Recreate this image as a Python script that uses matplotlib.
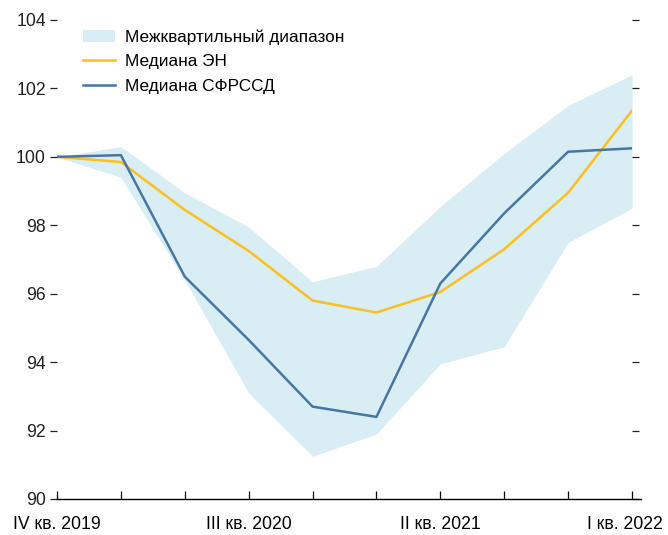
import numpy as np
import matplotlib
matplotlib.use("Agg")
import matplotlib.pyplot as plt
import matplotlib.transforms as mtransforms

plt.rcParams['font.family'] = ['Liberation Sans', 'DejaVu Sans']

# quarters from IV 2019 to I 2022
quarters = ['IV кв. 2019', 'I кв. 2020', 'II кв. 2020', 'III кв. 2020', 'IV кв. 2020',
            'I кв. 2021', 'II кв. 2021', 'III кв. 2021', 'IV кв. 2021', 'I кв. 2022']
band_low = [100.0, 99.4, 96.4, 93.1, 91.25, 91.9, 93.95, 94.45, 97.5, 98.5]
band_high = [100.0, 100.3, 98.95, 97.95, 96.35, 96.8, 98.55, 100.1, 101.5, 102.4]
med_en = [100.0, 99.85, 98.45, 97.25, 95.8, 95.45, 96.05, 97.3, 98.95, 101.35]
med_sfr = [100.0, 100.05, 96.5, 94.65, 92.7, 92.4, 96.3, 98.35, 100.15, 100.25]
shown_labels = ['IV кв. 2019', 'III кв. 2020', 'II кв. 2021', 'I кв. 2022']

x = np.arange(len(quarters))

fig = plt.figure(figsize=(6.68, 5.35), dpi=100)
ax = fig.add_axes([57/668, 1-499/535, (632-57)/668, (499-20)/535])

ax.fill_between(x, band_low, band_high, color='#d9edf5', lw=0, label='Межквартильный диапазон')
ax.plot(x, med_en, color='#fbbf1f', lw=1.8, label='Медиана ЭН')
ax.plot(x, med_sfr, color='#4677a2', lw=1.8, label='Медиана СФРССД')

ax.set_xlim(0, 9)
ax.set_ylim(90, 104)
ax.set_yticks(np.arange(90, 105, 2))
ax.set_xticks(x)
ax.set_xticklabels([q if q in shown_labels else '' for q in quarters])

for s in ['left', 'right', 'top']:
    ax.spines[s].set_visible(False)
ax.spines['bottom'].set_bounds(0, 9.14)
ax.spines['bottom'].set_linewidth(1.0)

ax.tick_params(axis='y', which='both', direction='out', length=5, width=0.9,
               pad=3, labelsize=12.7, left=True, right=True, colors='#222222')
ax.tick_params(axis='x', direction='in', length=6, width=0.9, pad=12, labelsize=12.7)

# nudge the last label so it stays inside the figure
lbls = ax.get_xticklabels()
shift = mtransforms.ScaledTranslation(-7/100, 0, fig.dpi_scale_trans)
lbls[-1].set_transform(lbls[-1].get_transform() + shift)

leg = ax.legend(loc='upper left', bbox_to_anchor=(0.033, 0.995), frameon=False,
                fontsize=12.4, handlelength=1.85, handletextpad=0.58, labelspacing=0.55,
                borderaxespad=0)

plt.savefig('out.png', dpi=100)
